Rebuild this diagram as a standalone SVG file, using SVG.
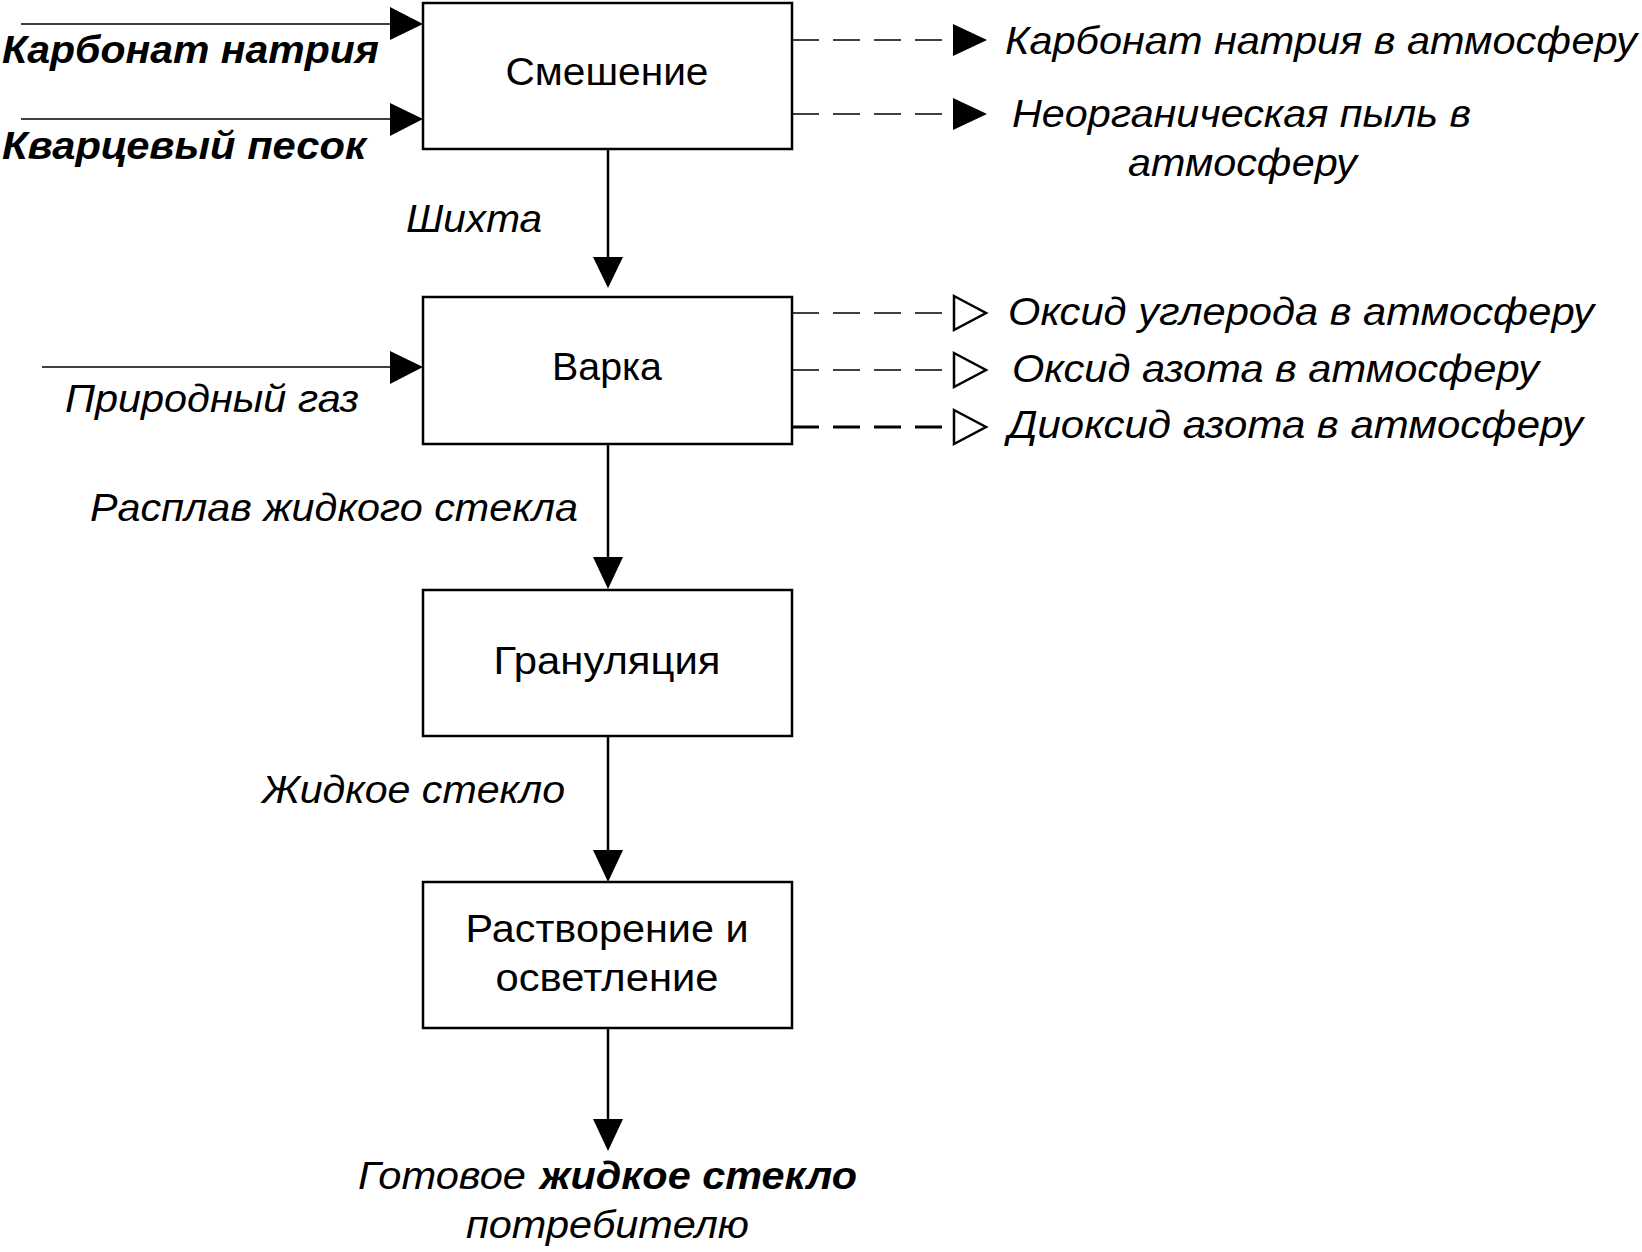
<svg xmlns="http://www.w3.org/2000/svg" width="1642" height="1252" viewBox="0 0 1642 1252">
<style>
.box{fill:#fff;stroke:#000;stroke-width:2.5}
.bt{font-family:"Liberation Sans",Arial,sans-serif;font-size:38px;fill:#000}
.it{font-family:"Liberation Sans",Arial,sans-serif;font-size:39px;font-style:italic;fill:#000}
.bi{font-family:"Liberation Sans",Arial,sans-serif;font-size:39px;font-style:italic;font-weight:bold;fill:#000}
.in{stroke:#000;stroke-width:1.5;fill:none}
.v{stroke:#000;stroke-width:2.5;fill:none}
.d{stroke:#000;stroke-width:1.6;fill:none;stroke-dasharray:27 14}
.d2{stroke:#000;stroke-width:3;fill:none;stroke-dasharray:27 14}
.ah{fill:#000;stroke:none}
.ho{fill:#fff;stroke:#000;stroke-width:2.5}
</style>
<rect width="1642" height="1252" fill="#fff"/>
<g id="connectors">
<line class="in" x1="21" y1="24" x2="392" y2="24"/>
<polygon class="ah" points="390,7 423,24 390,40"/>
<line class="in" x1="21" y1="119" x2="392" y2="119"/>
<polygon class="ah" points="390,103 423,119 390,136"/>
<line class="in" x1="42" y1="367" x2="392" y2="367"/>
<polygon class="ah" points="390,351 423,367 390,384"/>
<line class="v" x1="608" y1="149" x2="608" y2="260"/>
<polygon class="ah" points="593,257 623,257 608,288"/>
<line class="v" x1="608" y1="444" x2="608" y2="560"/>
<polygon class="ah" points="593,557 623,557 608,589"/>
<line class="v" x1="608" y1="736" x2="608" y2="853"/>
<polygon class="ah" points="593,850 623,850 608,882"/>
<line class="v" x1="608" y1="1028" x2="608" y2="1122"/>
<polygon class="ah" points="593,1119 623,1119 608,1151"/>
<line class="d" x1="792" y1="40" x2="942" y2="40"/>
<polygon class="ah" points="953,24 987,40 953,56"/>
<line class="d" x1="792" y1="114" x2="942" y2="114"/>
<polygon class="ah" points="953,98 987,114 953,130"/>
<line class="d" x1="792" y1="313" x2="942" y2="313"/>
<polygon class="ho" points="954,296 986,313 954,330"/>
<line class="d" x1="792" y1="370" x2="942" y2="370"/>
<polygon class="ho" points="954,353 986,370 954,387"/>
<line class="d2" x1="792" y1="427" x2="942" y2="427"/>
<polygon class="ho" points="954,410 986,427 954,444"/>
</g>
<g id="node-smeshenie">
<rect class="box" x="423" y="3" width="369" height="146"/>
<text class="bt" x="607" y="85" text-anchor="middle" textLength="203" lengthAdjust="spacingAndGlyphs">Смешение</text>
</g>
<g id="node-varka">
<rect class="box" x="423" y="297" width="369" height="147"/>
<text class="bt" x="607" y="380" text-anchor="middle" textLength="110" lengthAdjust="spacingAndGlyphs">Варка</text>
</g>
<g id="node-granul">
<rect class="box" x="423" y="590" width="369" height="146"/>
<text class="bt" x="607" y="674" text-anchor="middle" textLength="227" lengthAdjust="spacingAndGlyphs">Грануляция</text>
</g>
<g id="node-rastvor">
<rect class="box" x="423" y="882" width="369" height="146"/>
<text class="bt" x="607" y="942" text-anchor="middle" textLength="283" lengthAdjust="spacingAndGlyphs">Растворение и</text>
<text class="bt" x="607" y="991" text-anchor="middle" textLength="223" lengthAdjust="spacingAndGlyphs">осветление</text>
</g>
<g id="labels">
<text class="bi" x="2" y="63" textLength="377" lengthAdjust="spacingAndGlyphs">Карбонат натрия</text>
<text class="bi" x="2" y="159" textLength="364" lengthAdjust="spacingAndGlyphs">Кварцевый песок</text>
<text class="it" x="406" y="232" textLength="136" lengthAdjust="spacingAndGlyphs">Шихта</text>
<text class="it" x="1005" y="54" textLength="632" lengthAdjust="spacingAndGlyphs">Карбонат натрия в атмосферу</text>
<text class="it" x="1012" y="127" textLength="459" lengthAdjust="spacingAndGlyphs">Неорганическая пыль в</text>
<text class="it" x="1128" y="176" textLength="229" lengthAdjust="spacingAndGlyphs">атмосферу</text>
<text class="it" x="65" y="412" textLength="294" lengthAdjust="spacingAndGlyphs">Природный газ</text>
<text class="it" x="1008" y="325" textLength="586" lengthAdjust="spacingAndGlyphs">Оксид углерода в атмосферу</text>
<text class="it" x="1012" y="382" textLength="527" lengthAdjust="spacingAndGlyphs">Оксид азота в атмосферу</text>
<text class="it" x="1008" y="438" textLength="575" lengthAdjust="spacingAndGlyphs">Диоксид азота в атмосферу</text>
<text class="it" x="90" y="521" textLength="488" lengthAdjust="spacingAndGlyphs">Расплав жидкого стекла</text>
<text class="it" x="262" y="803" textLength="303" lengthAdjust="spacingAndGlyphs">Жидкое стекло</text>
<text class="it" x="358" y="1189" textLength="168" lengthAdjust="spacingAndGlyphs">Готовое</text>
<text class="bi" x="540" y="1189" textLength="317" lengthAdjust="spacingAndGlyphs">жидкое стекло</text>
<text class="it" x="466" y="1238" textLength="283" lengthAdjust="spacingAndGlyphs">потребителю</text>
</g>
</svg>
